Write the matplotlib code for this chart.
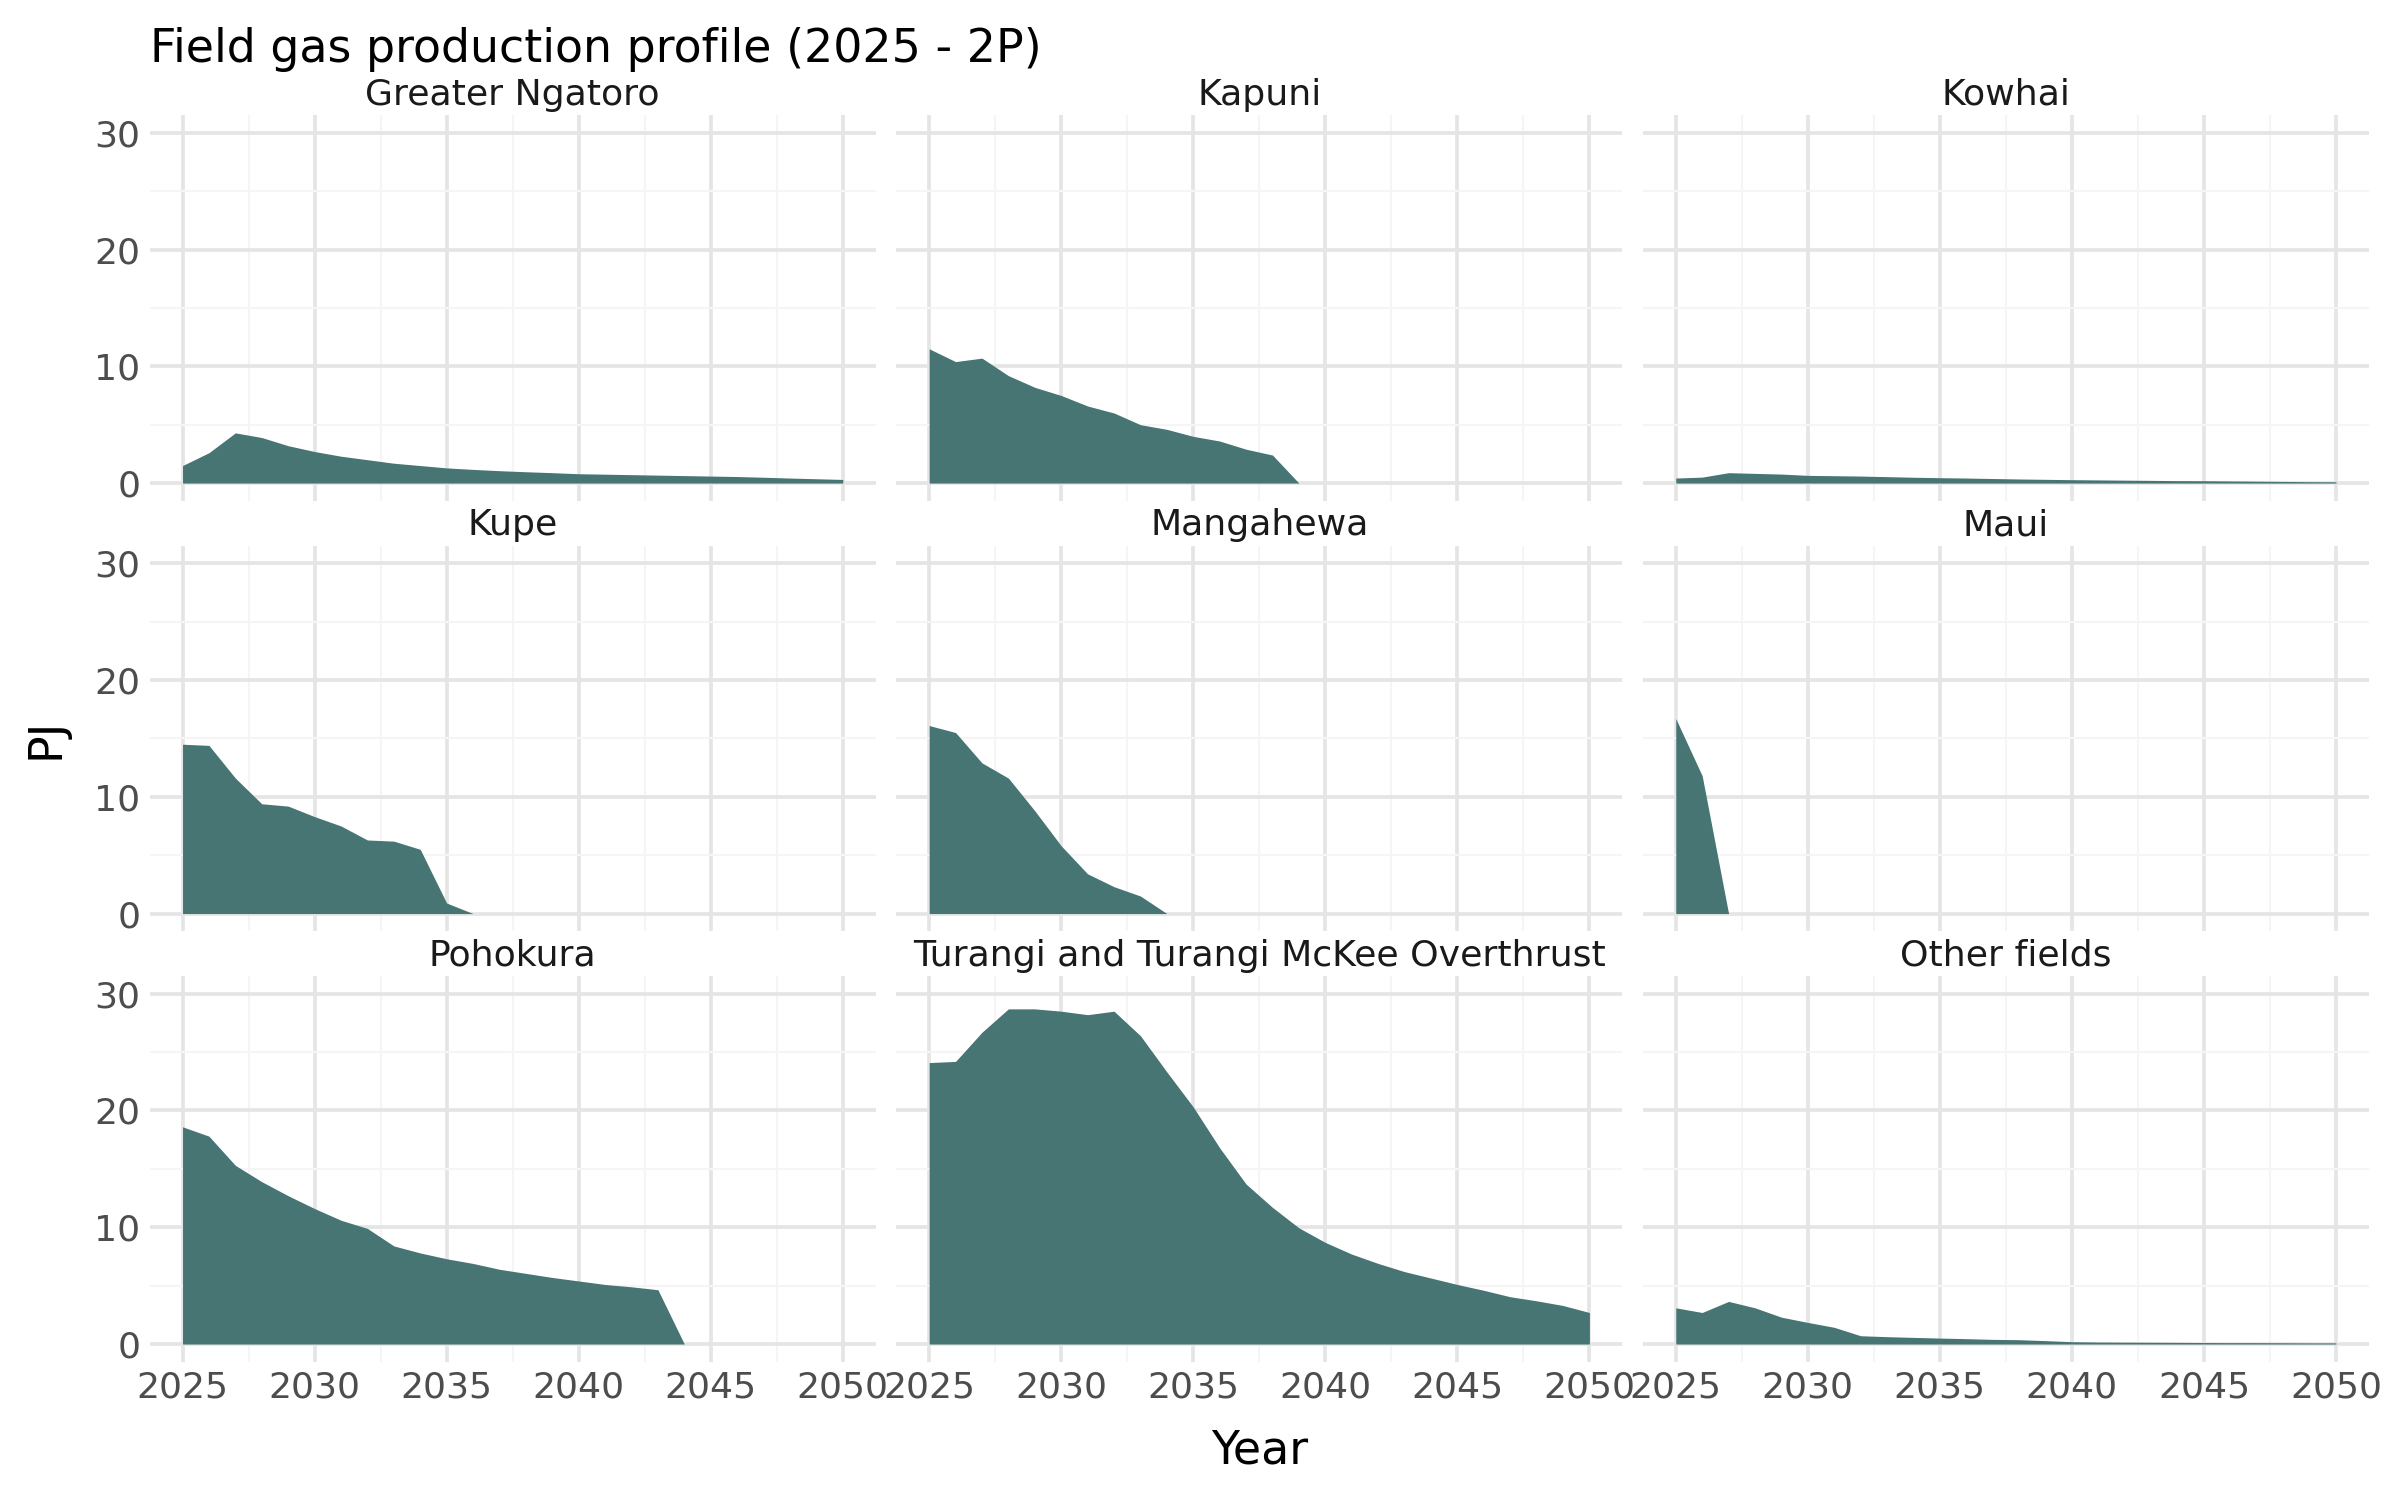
import matplotlib as mpl
import matplotlib.pyplot as plt
from matplotlib.ticker import MultipleLocator

mpl.rcParams.update({
    "font.family": "DejaVu Sans",
    "axes.spines.right": False,
    "axes.spines.top": False,
    "axes.spines.left": False,
    "axes.spines.bottom": False,
})

years = list(range(2025, 2051))

# PJ per year
greater_ngatoro = [1.5, 2.6, 4.3, 3.9, 3.2, 2.7, 2.3, 2.0, 1.7, 1.5, 1.3, 1.17, 1.06, 0.97,
                   0.89, 0.8, 0.76, 0.72, 0.68, 0.64, 0.6, 0.56, 0.5, 0.43, 0.37, 0.31]
kapuni = [11.5, 10.4, 10.7, 9.2, 8.2, 7.5, 6.6, 6.0, 5.0, 4.6, 4.0, 3.6, 2.9, 2.4, 0,
          0, 0, 0, 0, 0, 0, 0, 0, 0, 0, 0]
kowhai = [0.43, 0.51, 0.89, 0.83, 0.77, 0.66, 0.63, 0.6, 0.55, 0.5, 0.46, 0.43, 0.39, 0.35,
          0.32, 0.29, 0.27, 0.25, 0.23, 0.21, 0.2, 0.18, 0.16, 0.14, 0.12, 0.11]
kupe = [14.5, 14.4, 11.6, 9.4, 9.2, 8.3, 7.5, 6.3, 6.2, 5.5, 0.9, 0, 0, 0,
        0, 0, 0, 0, 0, 0, 0, 0, 0, 0, 0, 0]
mangahewa = [16.1, 15.5, 12.9, 11.6, 8.8, 5.8, 3.4, 2.3, 1.5, 0, 0, 0, 0, 0,
             0, 0, 0, 0, 0, 0, 0, 0, 0, 0, 0, 0]
maui = [16.7, 11.8, 0, 0, 0, 0, 0, 0, 0, 0, 0, 0, 0, 0,
        0, 0, 0, 0, 0, 0, 0, 0, 0, 0, 0, 0]
pohokura = [18.6, 17.8, 15.3, 13.9, 12.7, 11.6, 10.6, 9.9, 8.4, 7.8, 7.3, 6.9, 6.4, 6.05,
            5.7, 5.4, 5.1, 4.9, 4.65, 0, 0, 0, 0, 0, 0, 0]
turangi = [24.1, 24.2, 26.7, 28.7, 28.7, 28.5, 28.2, 28.5, 26.4, 23.3, 20.3, 16.8, 13.7, 11.7,
           9.95, 8.7, 7.7, 6.9, 6.2, 5.65, 5.1, 4.6, 4.05, 3.7, 3.3, 2.7]
other_fields = [3.1, 2.7, 3.65, 3.1, 2.3, 1.85, 1.43, 0.71, 0.63, 0.57, 0.51, 0.46, 0.4, 0.37,
                0.29, 0.2, 0.17, 0.16, 0.15, 0.14, 0.13, 0.12, 0.12, 0.11, 0.1, 0.1]

field_names = ["Greater Ngatoro", "Kapuni", "Kowhai", "Kupe", "Mangahewa", "Maui",
               "Pohokura", "Turangi and Turangi McKee Overthrust", "Other fields"]
field_values = [greater_ngatoro, kapuni, kowhai, kupe, mangahewa, maui,
                pohokura, turangi, other_fields]

fill_color = "#467573"
left, right, bottom, top = 0.0623, 0.9871, 0.0923, 0.9232

fig, axes = plt.subplots(3, 3, figsize=(8, 5), sharex=True, sharey=True)
fig.subplots_adjust(left=left, right=right, bottom=bottom, top=top,
                    wspace=0.028, hspace=0.117)

for i, (ax, name, vals) in enumerate(zip(axes.flat, field_names, field_values)):
    ax.fill_between(years, 0, vals, color=fill_color, linewidth=0, zorder=3)
    ax.set_xlim(2023.75, 2051.25)
    ax.set_ylim(-1.5, 31.5)
    ax.xaxis.set_major_locator(MultipleLocator(5))
    ax.xaxis.set_minor_locator(MultipleLocator(2.5))
    ax.yaxis.set_major_locator(MultipleLocator(10))
    ax.yaxis.set_minor_locator(MultipleLocator(5))
    ax.grid(which="major", color="#e5e5e5", linewidth=0.9, zorder=0)
    ax.grid(which="minor", color="#f5f5f5", linewidth=0.5, zorder=0)
    ax.tick_params(which="both", length=0, labelsize=8.7, labelcolor="#4d4d4d", pad=2.2)
    ax.set_title(name, fontsize=8.7, color="#1a1a1a", pad=2.5)
    if i % 3 != 0:
        ax.tick_params(labelleft=False)
    if i < 6:
        ax.tick_params(labelbottom=False)

fig.text((left + right) / 2, 0.033, "Year", fontsize=11, ha="center", va="center")
fig.text(0.019, (bottom + top) / 2, "PJ", fontsize=11, ha="center", va="center",
         rotation=90)
fig.text(left, 0.982, "Field gas production profile (2025 - 2P)", fontsize=11,
         ha="left", va="top")

fig.savefig("out.png", dpi=300, facecolor="white")
